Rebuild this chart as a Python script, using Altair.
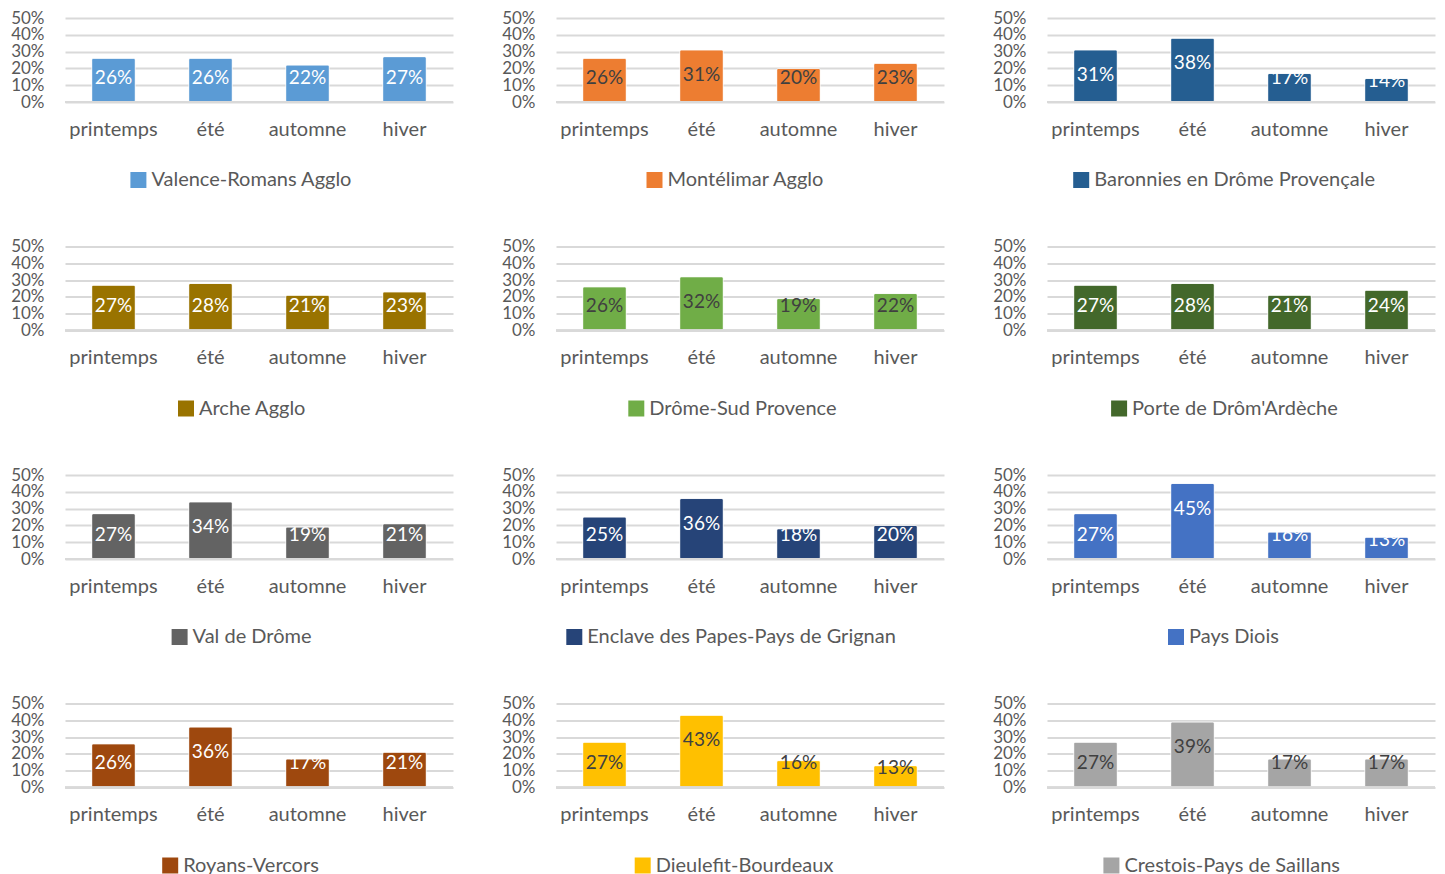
import altair as alt
import pandas as pd

saisons = ["printemps", "été", "automne", "hiver"]

territoires = [
    "Valence-Romans Agglo", "Montélimar Agglo", "Baronnies en Drôme Provençale",
    "Arche Agglo", "Drôme-Sud Provence", "Porte de Drôm'Ardèche",
    "Val de Drôme", "Enclave des Papes-Pays de Grignan", "Pays Diois",
    "Royans-Vercors", "Dieulefit-Bourdeaux", "Crestois-Pays de Saillans",
]

valence = [26, 26, 22, 27]
montelimar = [26, 31, 20, 23]
baronnies = [31, 38, 17, 14]
arche = [27, 28, 21, 23]
drome_sud = [26, 32, 19, 22]
porte = [27, 28, 21, 24]
val_drome = [27, 34, 19, 21]
enclave = [25, 36, 18, 20]
diois = [27, 45, 16, 13]
royans = [26, 36, 17, 21]
dieulefit = [27, 43, 16, 13]
crestois = [27, 39, 17, 17]

valeurs = [valence, montelimar, baronnies, arche, drome_sud, porte,
           val_drome, enclave, diois, royans, dieulefit, crestois]

couleurs = ["#5B9BD5", "#ED7D31", "#255E91", "#997300", "#70AD47", "#43682B",
            "#636363", "#264478", "#4472C4", "#9E480E", "#FFC000", "#A5A5A5"]
couleurs_texte = ["white", "#404040", "white", "white", "#404040", "white",
                  "white", "white", "white", "white", "#404040", "#404040"]

FONT = "Lato"
GRAY = "#595959"
GRID = "#D9D9D9"
FS = 20

# rough Lato advance widths (em) for legend centering
W = {' ': 0.26, '-': 0.35, "'": 0.2}
for c in "abcdeghknopqsuvxyz":
    W[c] = 0.53
for c in "ilj":
    W[c] = 0.24
W.update({'f': 0.32, 'r': 0.36, 't': 0.35, 'm': 0.82, 'w': 0.76, 's': 0.42,
          'c': 0.46, 'é': 0.53, 'è': 0.53, 'ô': 0.55, 'ç': 0.46})


def text_w(s):
    return sum(W.get(ch, 0.64) for ch in s) * FS


XAXIS = alt.Axis(domain=False, ticks=False, labelAngle=0, labelFont=FONT,
                 labelFontSize=FS, labelColor=GRAY, labelPadding=17, grid=False)
YAXIS = alt.Axis(values=[0, 0.1, 0.2, 0.3, 0.4, 0.5], format=".0%",
                 domain=False, ticks=False, labelFont=FONT, labelFontSize=17,
                 labelColor=GRAY, labelPadding=21, labelOverlap=False,
                 labelBound=False, gridColor=GRID, gridWidth=2, minExtent=56,
                 maxExtent=56)


def panel(i):
    name = territoires[i]
    df = pd.DataFrame({"saison": saisons, "v": valeurs[i], "territoire": name})
    base = alt.Chart(df).transform_calculate(
        part="datum.v / 100",
        lp="min(datum.v / 100 - 0.015, max(datum.v / 100 - 0.15, 0.145))",
        label="datum.v + '%'",
    )
    xscale = alt.Scale(paddingInner=0.55, paddingOuter=0.275)
    xenc = alt.X("saison:N", sort=saisons, title=None, scale=xscale, axis=XAXIS)
    yscale = alt.Scale(domain=[0, 0.5])
    total_w = 16 + 3 + text_w(name)
    bars = base.mark_bar(stroke="white", strokeOpacity=0.6, strokeWidth=1,
                         cornerRadius=2).encode(
        x=xenc,
        y=alt.Y("part:Q", scale=yscale, title=None, axis=YAXIS),
        color=alt.Color("territoire:N", scale=alt.Scale(range=[couleurs[i]]),
                        legend=alt.Legend(orient="none", legendX=173 - total_w / 2,
                                          legendY=152, title=None,
                                          symbolType="square", symbolSize=256,
                                          symbolStrokeWidth=0, labelFont=FONT,
                                          labelFontSize=FS, labelColor=GRAY,
                                          labelOffset=3, labelLimit=500)),
    )
    zero = base.mark_rule(color=GRID, strokeWidth=2).encode(
        y=alt.datum(0, scale=yscale, axis=YAXIS, title=None),
        x=alt.value(0), x2=alt.value(388))
    labels = base.mark_text(font=FONT, fontSize=19, baseline="middle",
                            color=couleurs_texte[i]).encode(
        x=xenc, y=alt.Y("lp:Q", scale=yscale, axis=YAXIS, title=None),
        text="label:N")
    return alt.layer(bars, zero, labels).properties(width=388, height=84)


rows = []
for r in range(4):
    row = alt.hconcat(*[panel(r * 3 + c) for c in range(3)], spacing=103,
                      bounds="flush").resolve_scale(color="independent")
    rows.append(row)

chart = alt.vconcat(*rows, spacing=228.5, bounds="flush").resolve_scale(
    color="independent"
).properties(
    padding={"left": 1, "top": 1, "right": 0, "bottom": 0}, background="white"
).configure_view(strokeWidth=0, stroke="transparent")

chart.save("out.html", embed_options={"renderer": "svg", "actions": False})
